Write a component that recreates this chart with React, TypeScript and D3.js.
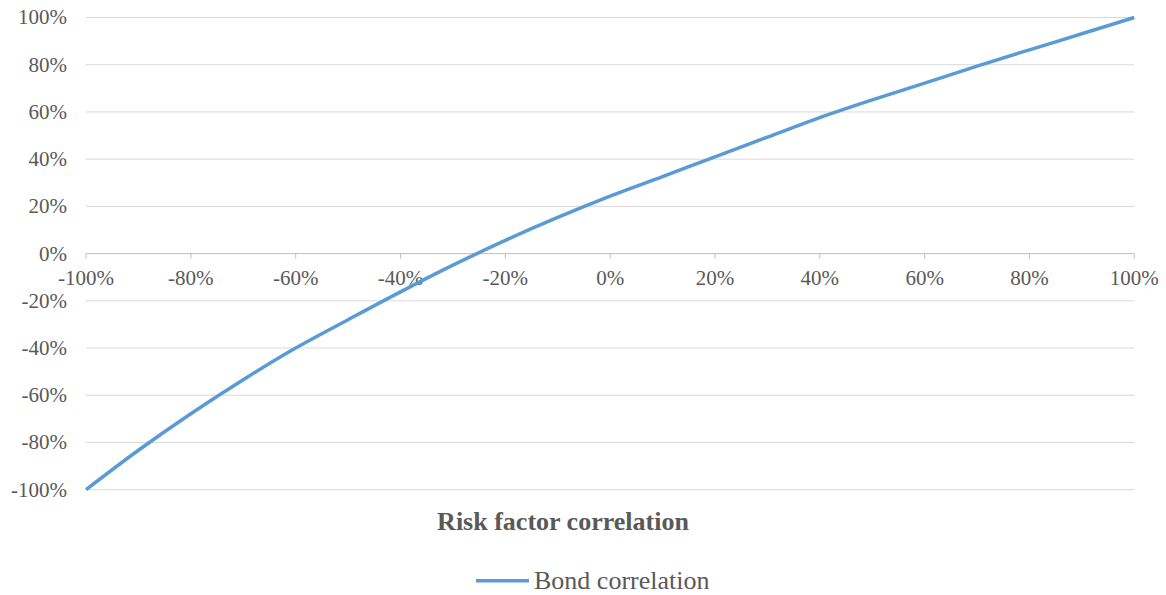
import React from "react";
import * as d3 from "d3";

const riskCorr = [-100, -90, -80, -70, -60, -50, -40, -30, -20, -10, 0, 10, 20, 30, 40, 50, 60, 70, 80, 90, 100];
const bondCorr = [-100, -83.3, -67.8, -53.4, -40.0, -28.0, -16.2, -4.9, 5.6, 15.3, 24.3, 32.6, 41.0, 49.3, 57.6, 65.1, 72.2, 79.4, 86.3, 93.1, 100];
const xTicks = [-100, -80, -60, -40, -20, 0, 20, 40, 60, 80, 100];
const yTicks = [-100, -80, -60, -40, -20, 0, 20, 40, 60, 80, 100];
const xTitle = "Risk factor correlation";
const seriesName = "Bond correlation";

export default function App() {
  const W = 1166, H = 595;
  const left = 86, right = 1134.3, top = 17.5, bottom = 489.7;
  const x = d3.scaleLinear().domain([-100, 100]).range([left, right]);
  const y = d3.scaleLinear().domain([-100, 100]).range([bottom, top]);
  const pts = riskCorr.map((r, i) => [r, bondCorr[i]] as [number, number]);
  const line = d3.line<[number, number]>().x(d => x(d[0])).y(d => y(d[1])).curve(d3.curveMonotoneX);
  const font = "Liberation Serif, Times New Roman, serif";
  const gray = "#595959";
  const ts = { fontFamily: font } as React.CSSProperties;
  return (
    <svg width={W} height={H} style={{ position: "absolute", left: 0, top: 0, background: "#fff" }}>
      {yTicks.map(t => (
        <line key={"g" + t} x1={left} x2={right} y1={y(t)} y2={y(t)} stroke={t === 0 ? "#BFBFBF" : "#D9D9D9"} strokeWidth={1} />
      ))}
      {xTicks.map(t => (
        <line key={"t" + t} x1={x(t)} x2={x(t)} y1={y(0)} y2={y(0) + 5} stroke="#BFBFBF" strokeWidth={1} />
      ))}
      {yTicks.map(t => (
        <text key={"yl" + t} x={67} y={y(t)} dy="0.33em" textAnchor="end" style={ts} fontSize={21} fill={gray}>{t}%</text>
      ))}
      {xTicks.map(t => (
        <text key={"xl" + t} x={x(t)} y={285} textAnchor="middle" style={ts} fontSize={21} fill={gray}>{t}%</text>
      ))}
      <path d={line(pts) || ""} fill="none" stroke="#5B9BD5" strokeWidth={3.5} />
      <text x={563} y={530} textAnchor="middle" style={ts} fontSize={26} fontWeight="bold" fill={gray}>{xTitle}</text>
      <line x1={476} x2={529} y1={580.7} y2={580.7} stroke="#5B9BD5" strokeWidth={3.5} />
      <text x={534} y={589} style={ts} fontSize={26} fill={gray}>{seriesName}</text>
    </svg>
  );
}
